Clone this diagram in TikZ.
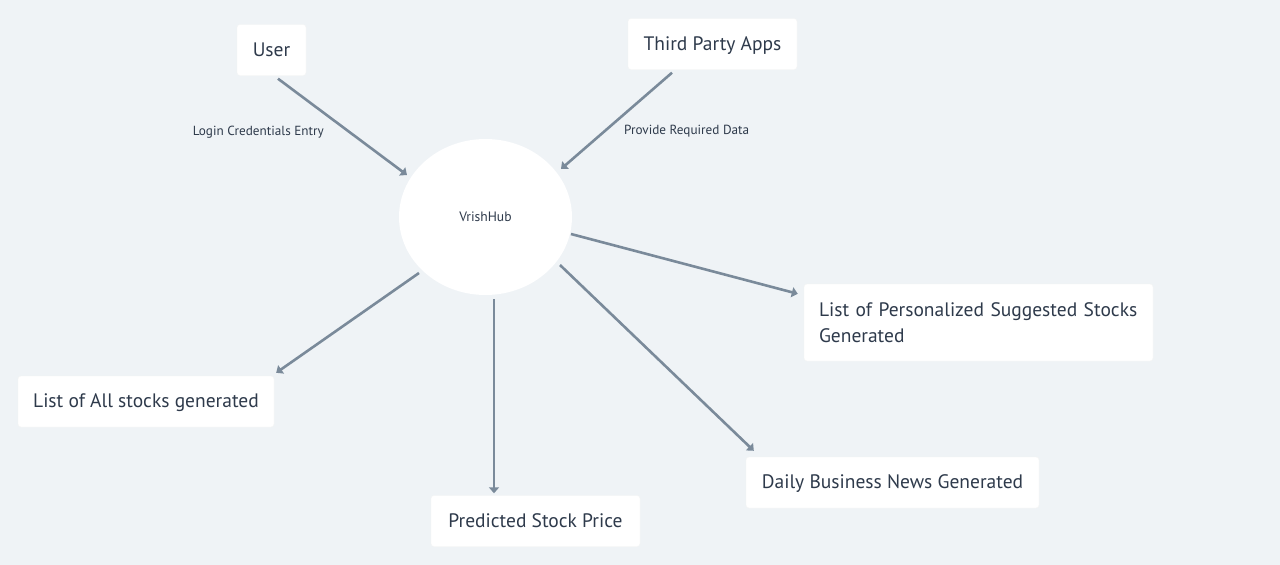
\documentclass[tikz,border=0pt]{standalone}
\usepackage{fontspec}
\setmainfont{PT Sans}
\usetikzlibrary{shapes,arrows.meta,positioning}
\definecolor{bgcol}{HTML}{EFF3F6}
\definecolor{linecol}{HTML}{7A8A9A}
\definecolor{textcol}{HTML}{2E3A4B}
\begin{document}
\begin{tikzpicture}[x=1pt, y=-1pt,
            box/.style={rectangle, fill=white, draw=black!4, rounded corners=3pt, minimum height=51pt, inner xsep=15pt, text depth=1pt, text=textcol, font=\fontsize{19.5}{26}\selectfont, align=center},
            hub/.style={ellipse, fill=white, minimum width=173pt, minimum height=156pt, text=textcol, font=\fontsize{13.6}{16}\selectfont},
            lbl/.style={text=textcol, yshift=-2pt, font=\fontsize{13.2}{16}\selectfont},
            arrow/.style={-{Triangle[length=6pt,width=10pt]}, line width=2.6pt, draw=linecol}
        ]
            \fill[bgcol] (0,0) rectangle (1280,565);
            \useasboundingbox (0,0) rectangle (1280,565);

            \node[hub] (hub) at (485.5,217) {VrishHub};
            \node[box, minimum width=69pt] (user) at (271.5,50) {User};
            \node[box, minimum width=169pt] (apps) at (712.5,44) {Third Party Apps};
            \node[box, text depth=, text width=319pt, minimum height=77pt, align=left] (personal) at (978.5,322.5) {\mbox{List of Personalized Suggested Stocks}\\Generated};
            \node[box, minimum width=256pt] (allstocks) at (146,401.5) {List of All stocks generated};
            \node[box, minimum width=209pt] (price) at (535.5,521) {Predicted Stock Price};
            \node[box, minimum width=293pt] (news) at (892.5,482.5) {Daily Business News Generated};

            \draw[arrow] ([shift={(6.5,3)}]user.south) -- node[lbl, pos=0.53, left=18pt] {Login Credentials Entry} ([shift={(-78.5,-42)}]hub.center);
            \draw[arrow] ([shift={(-40.5,3)}]apps.south) -- node[lbl, pos=0.59, right=13pt] {Provide Required Data} ([shift={(75.5,-48)}]hub.center);
            \draw[arrow] ([shift={(85.5,17)}]hub.center) -- ([shift={(-6,10)}]personal.north west);
            \draw[arrow] ([shift={(-66.5,56)}]hub.center) -- ([shift={(2,-3)}]allstocks.north east);
            \draw[arrow] ([shift={(8.5,82)}]hub.center) -- ([shift={(-41.5,-2)}]price.north);
            \draw[arrow] ([shift={(74.5,48)}]hub.center) -- ([shift={(8,-6)}]news.north west);
        \end{tikzpicture}
\end{document}
